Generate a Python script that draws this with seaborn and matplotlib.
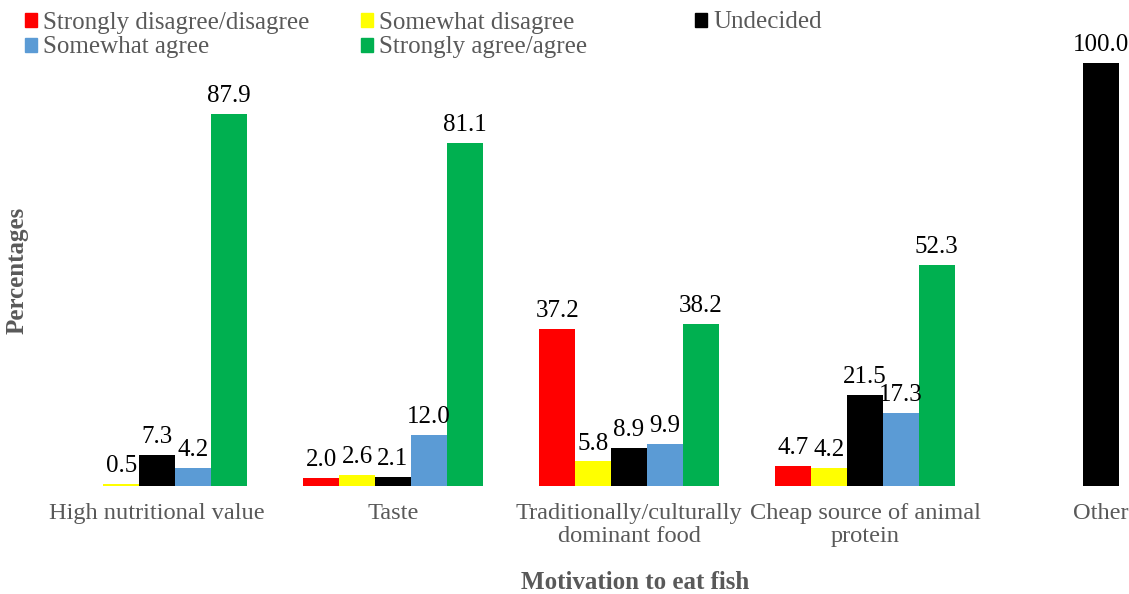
import numpy as np
import pandas as pd
import matplotlib
matplotlib.use("Agg")
import matplotlib.pyplot as plt
import matplotlib.patches as mpatches
import seaborn as sns

# Données
motivations = ["High nutritional value", "Taste",
               "Traditionally/culturally\ndominant food",
               "Cheap source of animal\nprotein", "Other"]
reponses = ["Strongly disagree/disagree", "Somewhat disagree", "Undecided",
            "Somewhat agree", "Strongly agree/agree"]

strongly_disagree = [np.nan, 2.0, 37.2, 4.7, np.nan]
somewhat_disagree = [0.5, 2.6, 5.8, 4.2, np.nan]
undecided = [7.3, 2.1, 8.9, 21.5, 100.0]
somewhat_agree = [4.2, 12.0, 9.9, 17.3, np.nan]
strongly_agree = [87.9, 81.1, 38.2, 52.3, np.nan]

couleurs = ["#FF0000", "#FFFF00", "#000000", "#5B9BD5", "#00B050"]

series = [strongly_disagree, somewhat_disagree, undecided, somewhat_agree, strongly_agree]
rows = []
for rep, vals in zip(reponses, series):
    for mot, v in zip(motivations, vals):
        rows.append({"Motivation": mot, "Reponse": rep, "Pourcentage": v})
df = pd.DataFrame(rows).dropna()

sns.set_theme(style="white")
plt.rcParams["font.family"] = ["Liberation Serif", "DejaVu Serif"]

gris = "#595959"
taille = 18
fig = plt.figure(figsize=(11.29, 5.94), dpi=100)
ax = fig.add_axes([39 / 1129, 108 / 594, 1180 / 1129, 423 / 594])

sns.barplot(data=df, x="Motivation", y="Pourcentage", hue="Reponse",
            order=motivations, hue_order=reponses,
            palette=dict(zip(reponses, couleurs)),
            width=0.76, saturation=1, errorbar=None, legend=False,
            linewidth=0, ax=ax)

for cont in ax.containers:
    ax.bar_label(cont, fmt="{:.1f}", fontsize=taille, color="black", padding=5)

ax.set_ylim(0, 100)
ax.set_xlim(-0.5, 4.5)
ax.set_yticks([])
ax.set_ylabel("Percentages", fontsize=taille, fontweight="bold", color=gris)
ax.yaxis.set_label_coords(-0.009, 0.51)
ax.set_xlabel("Motivation to eat fish", fontsize=taille, fontweight="bold", color=gris)
ax.xaxis.set_label_coords(0.505, -0.2)
ax.tick_params(axis="x", labelsize=17.6, labelcolor=gris, length=0, pad=12)
for lab in ax.get_xticklabels():
    lab.set_linespacing(1.15)
for s in ax.spines.values():
    s.set_visible(False)

# Légende en 3 colonnes placées à la main
handles = [mpatches.Patch(color=c, label=r) for c, r in zip(couleurs, reponses)]
colonnes = [([handles[0], handles[3]], 22), ([handles[1], handles[4]], 358), ([handles[2]], 692)]
for hs, x0 in colonnes:
    fig.legend(handles=hs, loc="upper left", bbox_to_anchor=(x0 / 1129, 1 - 9 / 594),
               frameon=False, fontsize=taille, labelcolor=gris,
               handlelength=0.5, handleheight=0.5, handletextpad=0.25,
               labelspacing=0.12, borderaxespad=0.0, borderpad=0.1)

fig.savefig("out.png", dpi=100)
